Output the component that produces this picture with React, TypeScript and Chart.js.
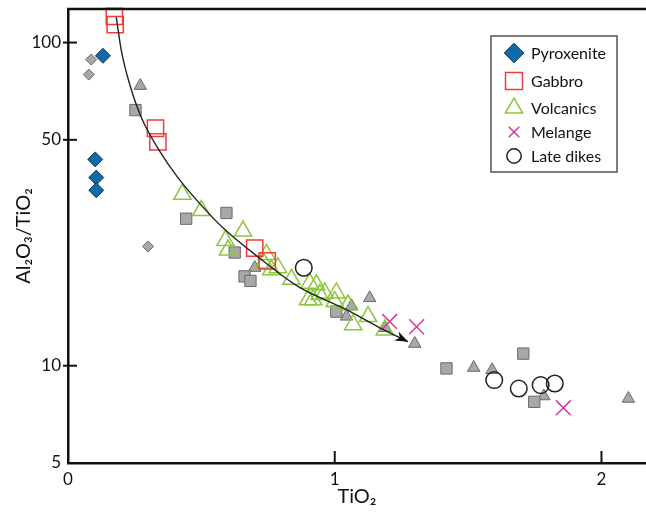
import React, { useEffect, useRef } from 'react';
import { Chart, registerables } from 'chart.js';
import { drawPoint } from 'chart.js/helpers';
Chart.register(...registerables);

const xTicks = [0, 1, 2];
const yTicks = [5, 10, 50, 100];

const pyroxeniteX = [0.131, 0.102, 0.106, 0.106];
const pyroxeniteY = [91, 43.5, 38.2, 34.9];
const gabbroX = [0.174, 0.177, 0.328, 0.337, 0.7, 0.747];
const gabbroY = [120.4, 113.7, 54.3, 49.3, 23.1, 21.1];
const volcanicsX = [0.429, 0.5, 0.656, 0.59, 0.6, 0.744, 0.787, 0.762, 0.734, 0.838, 0.906, 0.931, 0.919, 0.944, 0.962, 1.006, 1.0, 1.05, 1.125, 1.069, 1.188, 0.9];
const volcanicsY = [33.9, 30.2, 26.1, 24.4, 22.8, 22.1, 20.1, 19.8, 20.8, 18.5, 18.0, 17.8, 16.0, 16.6, 16.8, 16.8, 15.8, 15.4, 14.2, 13.4, 12.9, 16.0];
const melangeX = [1.206, 1.307, 1.857];
const melangeY = [13.7, 13.2, 7.41];
const dikesX = [0.884, 1.598, 1.69, 1.772, 1.825];
const dikesY = [20.1, 9.03, 8.5, 8.71, 8.81];
const otherDiamondX = [0.087, 0.078, 0.3];
const otherDiamondY = [88.6, 79.6, 23.4];
const otherSquareX = [0.253, 0.443, 0.594, 0.625, 0.662, 0.684, 1.006, 1.419, 1.707, 1.748];
const otherSquareY = [61.8, 28.5, 29.7, 22.4, 18.9, 18.3, 14.7, 9.81, 10.9, 7.73];
const otherTriangleX = [0.271, 0.7, 1.063, 1.044, 1.131, 1.188, 1.3, 1.521, 1.59, 1.784, 2.101];
const otherTriangleY = [73.5, 20.1, 15.3, 14.2, 16.2, 13.1, 11.7, 9.86, 9.7, 8.05, 7.91];
const trendX = [0.181, 0.2, 0.231, 0.275, 0.343, 0.412, 0.531, 0.594, 0.719, 0.862, 1.044, 1.169, 1.275];
const trendY = [119.8, 94.4, 74.4, 58.6, 46.2, 38.2, 29.4, 26.1, 21.5, 17.6, 14.9, 13.1, 11.87];

const legendLabels = ['Pyroxenite', 'Gabbro', 'Volcanics', 'Melange', 'Late dikes'];

const pts = (xs: number[], ys: number[]) => xs.map((x, i) => ({ x, y: ys[i] }));

const FONT = 'Lato, "Open Sans", sans-serif';

const zeroPad = (s: any) => { s.paddingTop = 0; s.paddingBottom = 0; s.paddingLeft = 0; s.paddingRight = 0; };

const decorPlugin = {
  id: 'decor',
  afterDatasetsDraw(chart: any) {
    const { ctx, chartArea: a, scales } = chart;
    const x = scales.x, y = scales.y;
    ctx.save();
    ctx.strokeStyle = '#111';
    ctx.lineWidth = 2.5;
    ctx.beginPath();
    ctx.moveTo(a.left - 1, a.top);
    ctx.lineTo(a.right, a.top);
    ctx.stroke();
    ctx.lineWidth = 2;
    for (const v of yTicks.slice(1)) {
      const py = y.getPixelForValue(v);
      ctx.beginPath();
      ctx.moveTo(a.left - 5, py);
      ctx.lineTo(a.left + 9, py);
      ctx.stroke();
    }
    for (const v of xTicks.slice(1)) {
      const px = x.getPixelForValue(v);
      ctx.beginPath();
      ctx.moveTo(px, a.bottom);
      ctx.lineTo(px, a.bottom - 12);
      ctx.stroke();
    }
    const idx = chart.data.datasets.findIndex((d: any) => d.isTrend);
    const meta = chart.getDatasetMeta(idx);
    const n = meta.data.length;
    const p1 = meta.data[n - 2], p2 = meta.data[n - 1];
    const ang = Math.atan2(p2.y - p1.y, p2.x - p1.x);
    const L = 13, W = 5;
    ctx.fillStyle = '#111';
    ctx.beginPath();
    ctx.moveTo(p2.x, p2.y);
    ctx.lineTo(p2.x - L * Math.cos(ang) + W * Math.sin(ang), p2.y - L * Math.sin(ang) - W * Math.cos(ang));
    ctx.lineTo(p2.x - L * 0.7 * Math.cos(ang), p2.y - L * 0.7 * Math.sin(ang));
    ctx.lineTo(p2.x - L * Math.cos(ang) - W * Math.sin(ang), p2.y - L * Math.sin(ang) + W * Math.cos(ang));
    ctx.closePath();
    ctx.fill();
    ctx.restore();
  },
  afterDraw(chart: any) {
    const { ctx } = chart;
    ctx.save();
    ctx.strokeStyle = '#555';
    ctx.lineWidth = 1.5;
    ctx.strokeRect(491, 36, 126, 136);
    const rows = [53, 81, 108, 132, 156];
    const sizes = [9.8, 12, 10, 7.5, 7.2];
    ctx.font = '16px ' + FONT;
    ctx.textBaseline = 'middle';
    ctx.textAlign = 'left';
    legendLabels.forEach((lab, i) => {
      const ds = chart.data.datasets.find((d: any) => d.label === lab);
      if (!ds) return;
      ctx.fillStyle = ds.backgroundColor;
      ctx.strokeStyle = ds.borderColor;
      ctx.lineWidth = ds.borderWidth;
      drawPoint(ctx, { pointStyle: ds.pointStyle, radius: sizes[i], rotation: 0, borderWidth: ds.borderWidth }, 514, rows[i]);
      ctx.fillStyle = '#111';
      ctx.fillText(lab, 531, rows[i] + 1);
    });
    ctx.restore();
  },
};

export default function App() {
  const ref = useRef<HTMLCanvasElement>(null);
  useEffect(() => {
    const gray = { backgroundColor: '#a8a8a8', borderColor: '#6a6a6a', borderWidth: 1 };
    const chart = new Chart(ref.current!, {
      type: 'scatter',
      data: {
        datasets: [
          { label: 'trend', isTrend: true, type: 'line', data: pts(trendX, trendY), borderColor: '#222', borderWidth: 1.4, pointRadius: 0, cubicInterpolationMode: 'monotone', fill: false, order: 0, clip: false } as any,
          { label: 'Pyroxenite', data: pts(pyroxeniteX, pyroxeniteY), pointStyle: 'rectRot', pointRadius: 7.5, backgroundColor: '#0e6aa8', borderColor: '#1c3550', borderWidth: 1, order: 2, clip: false },
          { label: 'Gabbro', data: pts(gabbroX, gabbroY), pointStyle: 'rect', pointRadius: 11.5, backgroundColor: 'rgba(255,255,255,0)', borderColor: '#f03c3c', borderWidth: 1.5, order: 3, clip: false },
          { label: 'Volcanics', data: pts(volcanicsX, volcanicsY), pointStyle: 'triangle', pointRadius: 10, backgroundColor: 'rgba(255,255,255,0)', borderColor: '#8cc63f', borderWidth: 1.5, order: 4, clip: false },
          { label: 'Melange', data: pts(melangeX, melangeY), pointStyle: 'crossRot', pointRadius: 10.5, backgroundColor: 'rgba(255,255,255,0)', borderColor: '#d6389e', borderWidth: 1.5, order: 1, clip: false },
          { label: 'Late dikes', data: pts(dikesX, dikesY), pointStyle: 'circle', pointRadius: 8.3, backgroundColor: 'rgba(255,255,255,0)', borderColor: '#222', borderWidth: 1.5, order: 1, clip: false },
          { label: 'Other (diamond)', data: pts(otherDiamondX, otherDiamondY), pointStyle: 'rectRot', pointRadius: 5.5, ...gray, order: 10, clip: false },
          { label: 'Other (square)', data: pts(otherSquareX, otherSquareY), pointStyle: 'rect', pointRadius: 8, ...gray, order: 10, clip: false },
          { label: 'Other (triangle)', data: pts(otherTriangleX, otherTriangleY), pointStyle: 'triangle', pointRadius: 7.2, ...gray, order: 10, clip: false },
        ],
      },
      options: {
        animation: false,
        responsive: true,
        maintainAspectRatio: false,
        layout: { autoPadding: false, padding: { top: 9, left: 0, right: 0, bottom: 0 } },
        plugins: { legend: { display: false }, tooltip: { enabled: false } },
        scales: {
          x: {
            type: 'linear',
            min: 0,
            max: 2.167,
            afterBuildTicks: (s: any) => { s.ticks = xTicks.map((v) => ({ value: v })); },
            afterFit: (s: any) => { s.height = 50; zeroPad(s); },
            grid: { display: false, drawTicks: false },
            border: { display: true, color: '#111', width: 2.5 },
            ticks: { padding: 6, color: '#111', font: { family: FONT, size: 17 }, callback: (v: any) => String(v) },
            title: { display: true, text: 'TiO₂', color: '#111', font: { family: FONT, size: 20 }, padding: { top: 0, bottom: 4 } },
          },
          y: {
            type: 'logarithmic',
            min: 5,
            max: 127,
            afterBuildTicks: (s: any) => { s.ticks = yTicks.map((v) => ({ value: v })); },
            afterFit: (s: any) => { s.width = 68; zeroPad(s); },
            grid: { display: false, drawTicks: false },
            border: { display: true, color: '#111', width: 2.5 },
            ticks: { padding: 7, color: '#111', font: { family: FONT, size: 17 }, callback: (v: any) => String(v) },
            title: { display: true, text: 'Al₂O₃/TiO₂', color: '#111', font: { family: FONT, size: 20 }, padding: { top: 12, bottom: 0 } },
          },
        },
      } as any,
      plugins: [decorPlugin],
    });
    return () => chart.destroy();
  }, []);
  return (
    <div style={{ position: 'absolute', left: 0, top: 0, width: 646, height: 513, background: '#fff' }}>
      <canvas ref={ref} />
    </div>
  );
}
